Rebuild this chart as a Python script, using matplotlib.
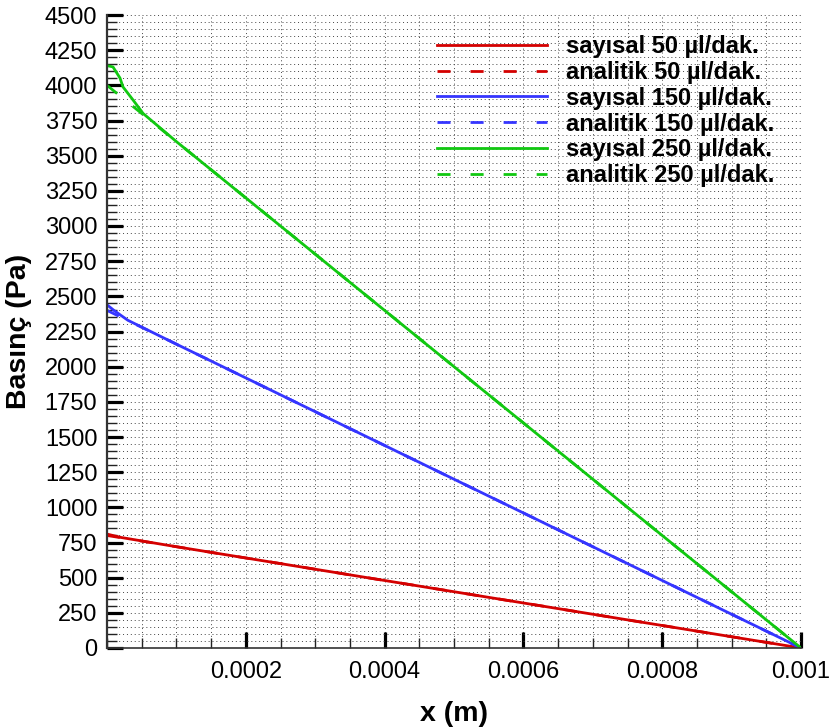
import matplotlib
matplotlib.use("Agg")
import matplotlib.pyplot as plt
from matplotlib.ticker import MultipleLocator, FixedLocator, FixedFormatter

plt.rcParams['font.family'] = ['Liberation Sans', 'DejaVu Sans']

# numeric (sayısal) results
x_num_50 = [0.0, 0.00002, 0.0001, 0.0005, 0.001]
y_num_50 = [810, 786, 720, 400, 0]
x_num_150 = [0.0, 0.00001, 0.00002, 0.00003, 0.0001, 0.0005, 0.001]
y_num_150 = [2440, 2400, 2365, 2330, 2160, 1200, 0]
x_num_250 = [0.0, 0.0000086, 0.0000187, 0.000023, 0.0000375, 0.000052, 0.0001, 0.0005, 0.001]
y_num_250 = [4140, 4131, 4052, 3989, 3896, 3800, 3600, 2000, 0]

# analytic (analitik) results
x_an = [0.0, 0.001]
y_an_50 = [800, 0]
y_an_150 = [2400, 0]
y_an_250 = [4000, 0]

labels = ['sayısal 50 µl/dak.', 'analitik 50 µl/dak.',
          'sayısal 150 µl/dak.', 'analitik 150 µl/dak.',
          'sayısal 250 µl/dak.', 'analitik 250 µl/dak.']
colors = ['#d40000', '#3535ff', '#11c811']

xticks = [0.0002, 0.0004, 0.0006, 0.0008, 0.001]
xticklabels = ['0.0002', '0.0004', '0.0006', '0.0008', '0.001']

fig = plt.figure(figsize=(8.32, 7.27), dpi=100)
ax = fig.add_axes([107/832, 1-648/727, (801-107)/832, (648-15)/727])

lw = 2.0
dash = (4.7, 7.2)
ax.plot(x_num_50, y_num_50, color=colors[0], lw=lw, label=labels[0])
ax.plot(x_an, y_an_50, color=colors[0], lw=lw, dashes=dash, label=labels[1])
ax.plot(x_num_150, y_num_150, color=colors[1], lw=lw, label=labels[2])
ax.plot(x_an, y_an_150, color=colors[1], lw=lw, dashes=dash, label=labels[3])
ax.plot(x_num_250, y_num_250, color=colors[2], lw=lw, label=labels[4])
ax.plot(x_an, y_an_250, color=colors[2], lw=lw, dashes=dash, label=labels[5])

ax.set_xlim(0, 0.001)
ax.set_ylim(0, 4500)

ax.xaxis.set_major_locator(FixedLocator(xticks))
ax.xaxis.set_major_formatter(FixedFormatter(xticklabels))
ax.xaxis.set_minor_locator(MultipleLocator(0.00005))
ax.yaxis.set_major_locator(MultipleLocator(250))
ax.yaxis.set_minor_locator(MultipleLocator(50))

for s in ['top', 'right']:
    ax.spines[s].set_visible(False)
ax.spines['left'].set_linewidth(1.6)
ax.spines['left'].set_color('#333333')
ax.spines['bottom'].set_linewidth(1.2)
ax.spines['bottom'].set_color('#333333')

ax.tick_params(which='major', direction='in', length=11.5, width=2.3, labelsize=17, pad=7, color='black')
ax.tick_params(which='minor', direction='in', length=7, width=1.0, color='#222222')
ax.tick_params(axis='x', which='major', pad=9)

ax.grid(True, which='both', linestyle=(0, (1, 3)), linewidth=0.7, color='#444444')
ax.set_axisbelow(True)

ax.set_xlabel('x (m)', fontsize=20.5, fontweight='bold', labelpad=13)
ax.set_ylabel('Basınç (Pa)', fontsize=20.5, fontweight='bold', labelpad=9)

leg = ax.legend(loc='upper left', bbox_to_anchor=((437-107)/694, (648-35)/633),
                frameon=False, borderpad=0, borderaxespad=0,
                handlelength=4.66, handletextpad=0.8, labelspacing=0.12,
                prop={'weight': 'bold', 'size': 17})

fig.savefig('out.png', dpi=100)
